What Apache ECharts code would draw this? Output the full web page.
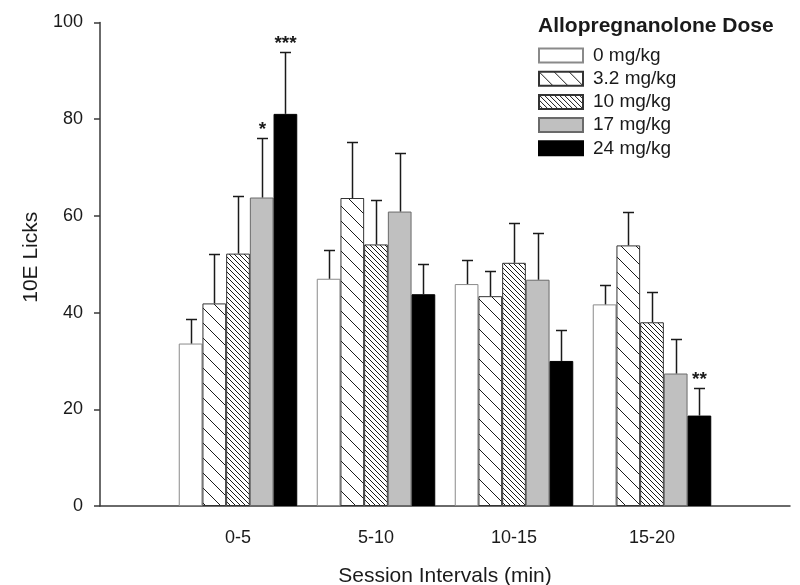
<!DOCTYPE html>
<html>
<head>
<meta charset="utf-8">
<script src="https://cdn.jsdelivr.net/npm/echarts@6/dist/echarts.min.js"></script>
<style>html,body{margin:0;padding:0;background:#fff}#c{width:800px;height:585px}</style>
</head>
<body>
<div id="c"></div>
<script>
// ---- data ----
const categories = ['0-5', '5-10', '10-15', '15-20'];
const doses = ['0 mg/kg', '3.2 mg/kg', '10 mg/kg', '17 mg/kg', '24 mg/kg'];
const dose0  = [33.6, 47.0, 45.9, 41.7];
const dose32 = [41.9, 63.7, 43.4, 53.9];
const dose10 = [52.2, 54.1, 50.3, 38.0];
const dose17 = [63.8, 60.9, 46.8, 27.4];
const dose24 = [81.1, 43.8, 30.0, 18.7];
const err0  = [5.0, 6.0, 4.9, 4.1];
const err32 = [10.3, 11.6, 5.2, 6.9];
const err10 = [12.0, 9.1, 8.2, 6.2];
const err17 = [12.3, 12.2, 9.6, 7.2];
const err24 = [12.8, 6.3, 6.3, 5.7];
const sig0  = ['', '', '', ''];
const sig32 = ['', '', '', ''];
const sig10 = ['', '', '', ''];
const sig17 = ['*', '', '', ''];
const sig24 = ['***', '', '', '**'];
const yTicks = [0, 20, 40, 60, 80, 100];

const values = [dose0, dose32, dose10, dose17, dose24];
const errors = [err0, err32, err10, err17, err24];
const sigs = [sig0, sig32, sig10, sig17, sig24];

function hatch(step) {
  const c = document.createElement('canvas');
  c.width = step; c.height = step;
  const g = c.getContext('2d');
  g.fillStyle = '#fff'; g.fillRect(0, 0, step, step);
  g.strokeStyle = '#1a1a1a'; g.lineWidth = 1;
  g.beginPath();
  for (let k = -1; k <= 1; k++) {
    g.moveTo(k * step - 1, -1);
    g.lineTo(k * step + step + 1, step + 1);
  }
  g.stroke();
  return c;
}

const fills = [
  '#ffffff',
  { image: hatch(15), repeat: 'repeat' },
  { image: hatch(5), repeat: 'repeat' },
  '#c0c0c0',
  '#000000'
];
const borders = ['#8a8a8a', '#333333', '#333333', '#6a6a6a', '#000000'];

const BW = 23.7;
const font = '"Liberation Sans", Arial, sans-serif';
const axisData = [''].concat(categories, ['']);

const series = [];
values.forEach((vals, k) => {
  series.push({
    name: doses[k],
    type: 'bar',
    barWidth: BW,
    barGap: '0%',
    data: vals.map((v, i) => [i + 1, v]),
    itemStyle: { color: fills[k], borderColor: borders[k], borderWidth: 1 },
    emphasis: { disabled: true },
    animation: false
  });
});
values.forEach((vals, k) => {
  series.push({
    name: 'err' + k,
    type: 'custom',
    z: 5,
    animation: false,
    data: vals.map((v, i) => [i + 1, v, errors[k][i]]),
    renderItem: function (params, api) {
      const x = api.value(0), v = api.value(1), e = api.value(2);
      const p0 = api.coord([x, v]);
      const p1 = api.coord([x, v + e]);
      const cx = Math.round(p0[0] + (k - 2) * BW) + 0.5;
      const y1 = Math.round(p1[1]) + 0.5;
      const style = { stroke: '#1a1a1a', lineWidth: 1.5 };
      const ch = [
        { type: 'line', shape: { x1: cx, y1: p0[1], x2: cx, y2: y1 }, style: style },
        { type: 'line', shape: { x1: cx - 5.5, y1: y1, x2: cx + 5.5, y2: y1 }, style: style }
      ];
      const s = sigs[k][params.dataIndex];
      if (s) {
        ch.push({ type: 'text', x: cx, y: y1 + 1,
          style: { text: s, fontSize: 19, fontWeight: 'bold', fontFamily: font, fill: '#1a1a1a',
                   align: 'center', verticalAlign: 'bottom' } });
      }
      return { type: 'group', children: ch };
    }
  });
});

const chart = echarts.init(document.getElementById('c'), null, { renderer: 'canvas' });
chart.setOption({
  backgroundColor: '#fff',
  animation: false,
  title: {
    text: 'Allopregnanolone Dose', left: 538, top: 16, padding: 0,
    textStyle: { fontFamily: font, fontSize: 21, fontWeight: 'bold', color: '#1a1a1a' }
  },
  legend: {
    data: doses, orient: 'vertical', left: 538, top: 46, padding: 0,
    icon: 'rect', itemWidth: 44, itemHeight: 14, itemGap: 4.2,
    selectedMode: false,
    textStyle: { fontFamily: font, fontSize: 19, color: '#1a1a1a', padding: [0, 0, 0, 5] }
  },
  grid: { left: 100, right: 10, top: 22.5, bottom: 79, containLabel: false, outerBoundsMode: 'none' },
  xAxis: {
    type: 'category', data: axisData, boundaryGap: false,
    name: 'Session Intervals (min)', nameLocation: 'middle', nameGap: 60,
    nameTextStyle: { fontFamily: font, fontSize: 21, color: '#1a1a1a' },
    axisLine: { lineStyle: { color: '#3a3a3a', width: 1.5 } },
    axisTick: { show: false },
    axisLabel: { fontFamily: font, fontSize: 18, color: '#1a1a1a', margin: 23, interval: 0 },
    splitLine: { show: false }
  },
  yAxis: {
    type: 'value', min: yTicks[0], max: yTicks[yTicks.length - 1], interval: 20,
    name: '10E Licks', nameLocation: 'middle', nameGap: 46,
    nameTextStyle: { fontFamily: font, fontSize: 21, color: '#1a1a1a', padding: [0, 0, 0, 14] },
    axisLine: { show: true, lineStyle: { color: '#3a3a3a', width: 1.5 } },
    axisTick: { show: true, length: 6, lineStyle: { color: '#3a3a3a', width: 1.5 } },
    axisLabel: { fontFamily: font, fontSize: 18, color: '#1a1a1a', margin: 17 },
    splitLine: { show: false }
  },
  series: series
});
</script>
</body>
</html>
